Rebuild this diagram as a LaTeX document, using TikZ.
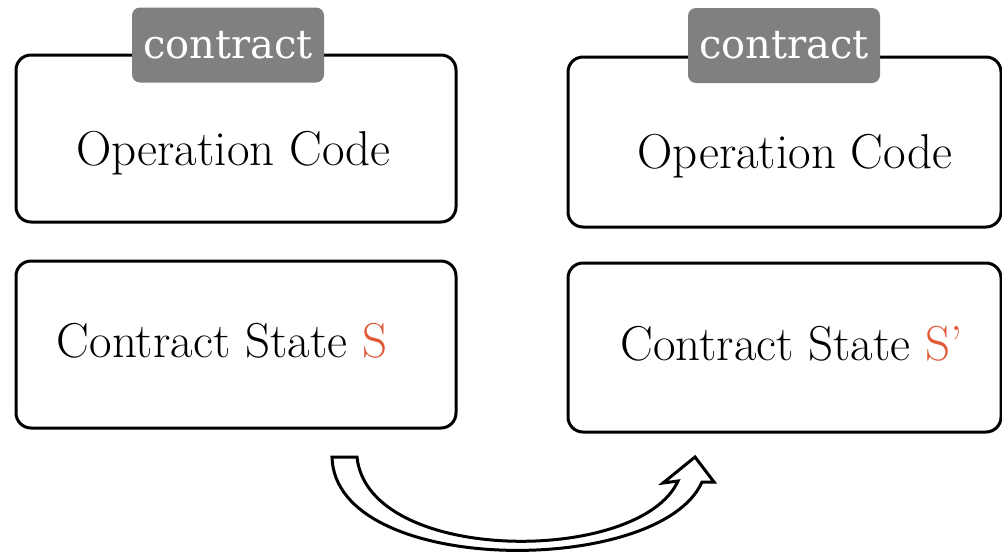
\documentclass[tikz,border=0pt]{standalone}
\usepackage{fontspec}
\newfontfamily\tagfont{DejaVu Serif}
\definecolor{taggray}{RGB}{128,128,128}
\definecolor{statered}{RGB}{224,90,56}
\begin{document}
\begin{tikzpicture}[x=1pt,y=-1pt,
  panel/.style={draw=black,line width=3pt,rounded corners=15pt,inner sep=0pt},
  tagbox/.style={fill=taggray,rounded corners=8pt,inner sep=0pt,
    minimum width=192pt,minimum height=75pt,text=white,
    font=\tagfont\fontsize{40}{44}\selectfont},
  label/.style={anchor=base,inner sep=0pt,font=\fontsize{49}{55}\selectfont},
  blockarrow/.style={draw=black,fill=white,line width=3pt,line join=miter}]
\useasboundingbox (0,0) rectangle (1002,552);

% memory panels before and after execution
\node[panel,minimum width=440pt,minimum height=167pt] (codeA) at (236,138.5) {};
\node[panel,minimum width=440pt,minimum height=167pt] (stateA) at (236,344.5) {};
\node[panel,minimum width=433pt,minimum height=170pt] (codeB) at (784.5,142) {};
\node[panel,minimum width=433pt,minimum height=169pt] (stateB) at (784.5,347.5) {};

% contract tags sitting on the top border
\node[tagbox] (tagA) at (228,45) {contract};
\node[tagbox] (tagB) at (784,45.5) {contract};

% texts
\node[label] (opA) at (233.5,165) {Operation Code};
\node[label] (opB) at (795,168) {Operation Code};
\node[label] (stA) at (222,357) {Contract State \textcolor{statered}{S}};
\node[label] (stB) at (791.5,360) {Contract State \textcolor{statered}{S'}};

% curved block arrow from the old state to the new state
\coordinate (tailL) at (332,457);
\coordinate (tailR) at (357,457);
\coordinate (notchL) at (678,481);
\coordinate (wingL) at (663,483);
\coordinate (tip) at (695,457);
\coordinate (wingR) at (714,482);
\coordinate (notchR) at (702,482);
\draw[blockarrow] (tailL) -- (tailR)
  .. controls (368,565) and (640,565) .. (notchL)
  -- (wingL) -- (tip) -- (wingR) -- (notchR)
  .. controls (660,577) and (335,577) .. cycle;
\end{tikzpicture}
\end{document}
